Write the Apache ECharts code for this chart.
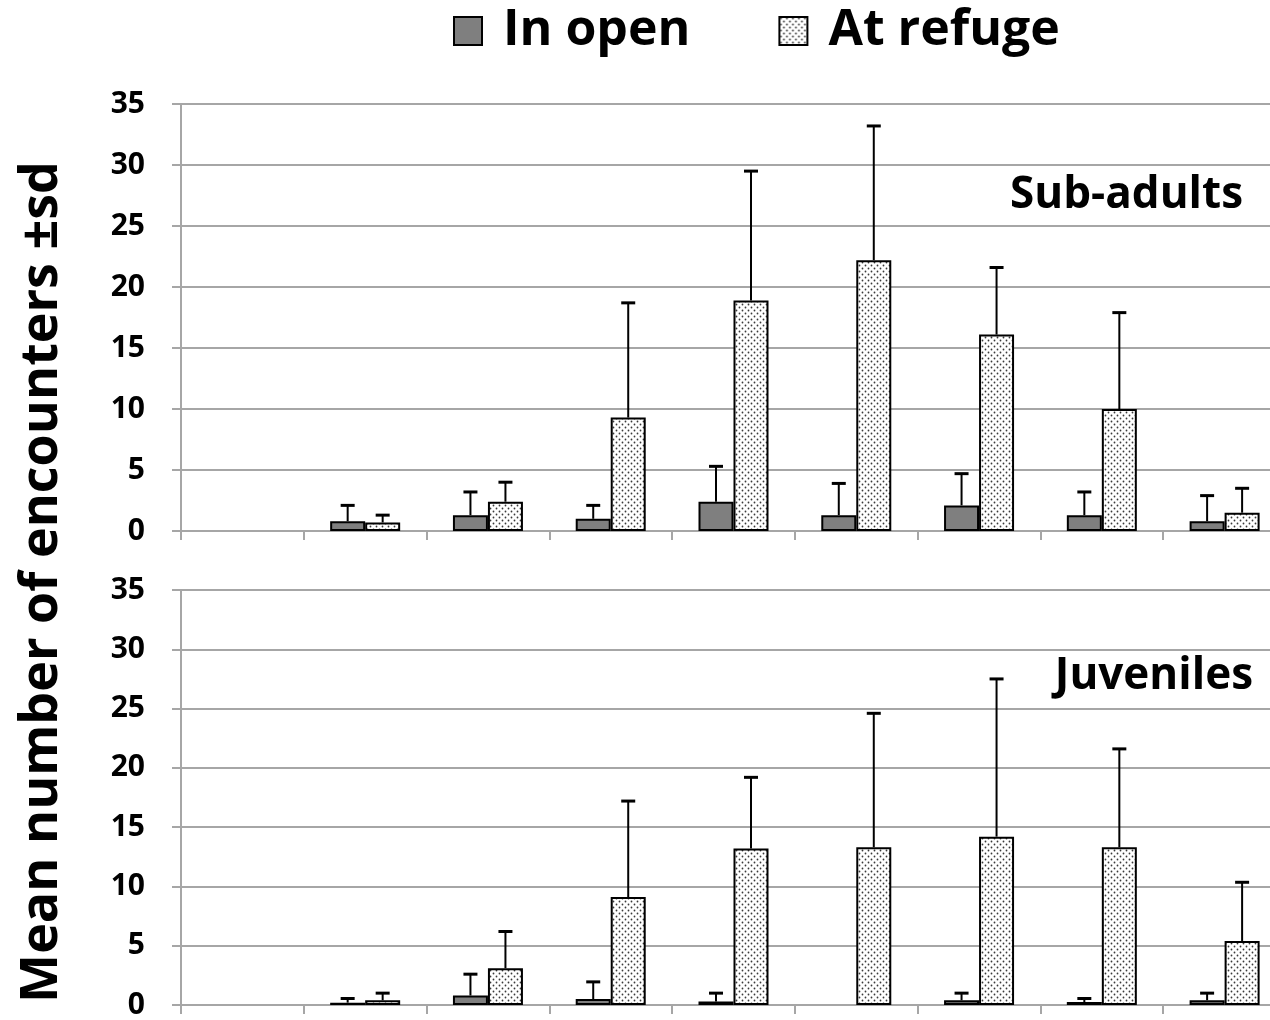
<!DOCTYPE html>
<html>
<head>
<meta charset="utf-8">
<script src="https://cdn.jsdelivr.net/npm/echarts@6/dist/echarts.min.js"></script>
<style>html,body{margin:0;padding:0;background:#fff;overflow:hidden;}#c{width:1290px;height:1020px;}</style>
</head>
<body>
<div id="c"></div>
<script>
// ---- data ----
const categories = ['1','2','3','4','5','6','7','8','9'];
const yTicks = [0,5,10,15,20,25,30,35];
// Sub-adults
const subOpenMean   = [null, 0.8, 1.3, 1.0, 2.4, 1.3, 2.1, 1.3, 0.8];
const subOpenSd     = [null, 1.3, 1.9, 1.1, 2.9, 2.6, 2.6, 1.9, 2.1];
const subRefugeMean = [null, 0.7, 2.4, 9.3, 18.9, 22.2, 16.1, 10.0, 1.5];
const subRefugeSd   = [null, 0.6, 1.6, 9.4, 10.6, 11.0, 5.5, 7.9, 2.0];
// Juveniles
const juvOpenMean   = [null, 0.2, 0.8, 0.5, 0.3, null, 0.4, 0.25, 0.4];
const juvOpenSd     = [null, 0.35, 1.8, 1.45, 0.7, null, 0.6, 0.3, 0.6];
const juvRefugeMean = [null, 0.4, 3.1, 9.1, 13.2, 13.3, 14.2, 13.3, 5.4];
const juvRefugeSd   = [null, 0.6, 3.1, 8.1, 6.0, 11.3, 13.3, 8.3, 4.95];

const FONT = '"Open Sans"';
const GRID_C = '#a6a6a6';
const BAR_W = 35;

function dotPattern(){
  const c = document.createElement('canvas');
  c.width = 6; c.height = 6;
  const g = c.getContext('2d');
  g.fillStyle = '#ffffff'; g.fillRect(0,0,6,6);
  g.fillStyle = '#3a3a3a';
  g.beginPath(); g.arc(1.5,1.5,0.9,0,Math.PI*2); g.fill();
  g.beginPath(); g.arc(4.5,4.5,0.9,0,Math.PI*2); g.fill();
  return c;
}
const pattern = {image: dotPattern(), repeat: 'repeat'};

function errSeries(means, sds, axis, sign){
  return {
    type: 'custom', xAxisIndex: axis, yAxisIndex: axis, z: 10, silent: true,
    data: means.map((m,i)=> (m==null ? null : [i, m, sds[i]])).filter(d=>d!==null),
    renderItem: function(params, api){
      const i = api.value(0), m = api.value(1), s = api.value(2);
      if (!s) return null;
      const p0 = api.coord([i, m]);
      const p1 = api.coord([i, m + s]);
      const x = p0[0] + sign * BAR_W / 2;
      return {type:'group', children:[
        {type:'line', shape:{x1:x, y1:p0[1], x2:x, y2:p1[1]}, style:{stroke:'#000', lineWidth:2}},
        {type:'line', shape:{x1:x-7, y1:p1[1], x2:x+7, y2:p1[1]}, style:{stroke:'#000', lineWidth:3}}
      ]};
    }
  };
}

function xAx(idx){
  return {type:'category', gridIndex: idx, data: categories, boundaryGap: true,
    axisLine:{show:true, lineStyle:{color:GRID_C, width:2}},
    axisTick:{show:true, length:9, alignWithLabel:false, lineStyle:{color:GRID_C, width:2}},
    axisLabel:{show:false}, splitLine:{show:false}};
}
function yAx(idx){
  return {type:'value', gridIndex: idx, min: yTicks[0], max: yTicks[yTicks.length-1], interval: 5,
    axisLine:{show:true, lineStyle:{color:GRID_C, width:2}},
    axisTick:{show:true, length:9, inside:false, lineStyle:{color:GRID_C, width:2}},
    axisLabel:{show:true, margin:36, fontFamily:FONT, fontWeight:'bold', fontSize:30, color:'#000'},
    splitLine:{show:true, lineStyle:{color:GRID_C, width:2}}};
}

const openStyle = {color:'#7f7f7f', borderColor:'#000', borderWidth:2};
const refugeStyle = {color: pattern, borderColor:'#000', borderWidth:2};

const chart = echarts.init(document.getElementById('c'), null, {renderer:'canvas'});
chart.setOption({
  animation: false,
  backgroundColor: '#fff',
  legend: {
    top: 1, left: 448, itemWidth: 28, itemHeight: 28, itemGap: 88,
    icon: 'rect',
    textStyle: {fontFamily: FONT, fontWeight:'bold', fontSize: 50, color:'#000', padding:[0,0,0,16]},
    data: ['In open', 'At refuge']
  },
  grid: [
    {left: 181, top: 104, width: 1105, height: 427},
    {left: 181, top: 590, width: 1105, height: 418}
  ],
  xAxis: [xAx(0), xAx(1)],
  yAxis: [yAx(0), yAx(1)],
  graphic: [
    {type:'text', x: 42, y: 582, rotation: Math.PI/2,
     style:{text:'Mean number of encounters ±sd', fontFamily:FONT, fontWeight:'bold', fontSize:52, fill:'#000', textAlign:'center', textVerticalAlign:'middle'}},
    {type:'text', x: 1243, y: 195,
     style:{text:'Sub-adults', fontFamily:FONT, fontWeight:'bold', fontSize:44, fill:'#000', textAlign:'right', textVerticalAlign:'middle'}},
    {type:'text', x: 1253, y: 676,
     style:{text:'Juveniles', fontFamily:FONT, fontWeight:'bold', fontSize:44, fill:'#000', textAlign:'right', textVerticalAlign:'middle'}}
  ],
  series: [
    {name:'In open', type:'bar', xAxisIndex:0, yAxisIndex:0, data: subOpenMean, barWidth: BAR_W, barGap:'0%', itemStyle: openStyle},
    {name:'At refuge', type:'bar', xAxisIndex:0, yAxisIndex:0, data: subRefugeMean, barWidth: BAR_W, barGap:'0%', itemStyle: refugeStyle},
    errSeries(subOpenMean, subOpenSd, 0, -1),
    errSeries(subRefugeMean, subRefugeSd, 0, 1),
    {name:'In open', type:'bar', xAxisIndex:1, yAxisIndex:1, data: juvOpenMean, barWidth: BAR_W, barGap:'0%', itemStyle: openStyle},
    {name:'At refuge', type:'bar', xAxisIndex:1, yAxisIndex:1, data: juvRefugeMean, barWidth: BAR_W, barGap:'0%', itemStyle: refugeStyle},
    errSeries(juvOpenMean, juvOpenSd, 1, -1),
    errSeries(juvRefugeMean, juvRefugeSd, 1, 1)
  ]
});
</script>
</body>
</html>
